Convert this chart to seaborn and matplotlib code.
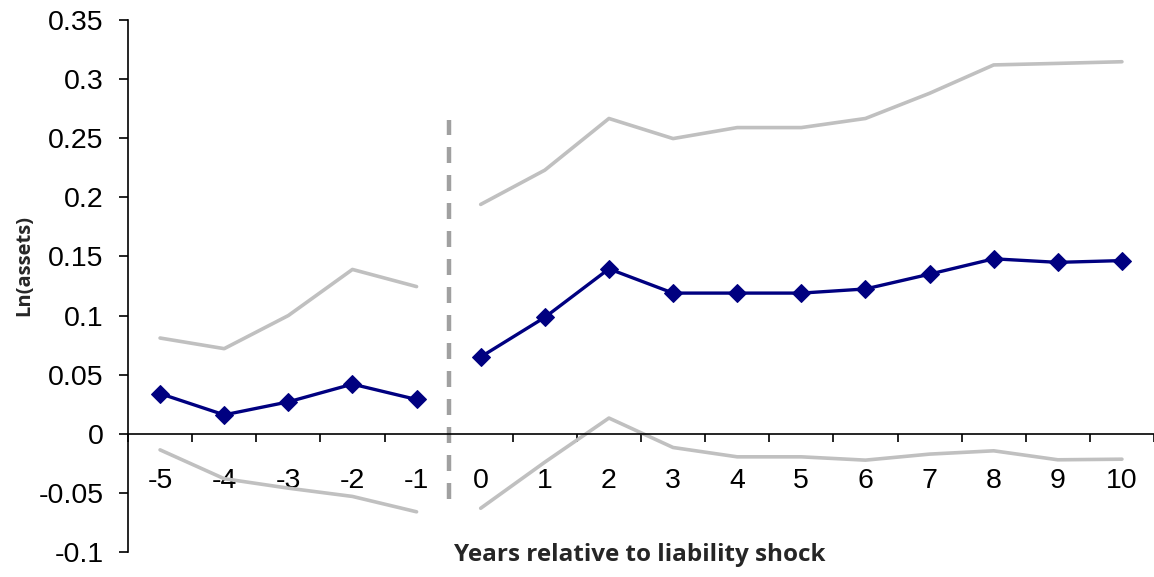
import numpy as np
import pandas as pd
import seaborn as sns
import matplotlib
matplotlib.use("Agg")
import matplotlib.pyplot as plt
from matplotlib.ticker import FixedLocator, NullFormatter, FixedFormatter

# Event-study estimates of log assets around a liability shock
years = [-5, -4, -3, -2, -1, 0, 1, 2, 3, 4, 5, 6, 7, 8, 9, 10]
estimate = [0.034, 0.016, 0.027, 0.042, 0.029, 0.065, 0.0985, 0.1395, 0.119, 0.119,
            0.119, 0.1225, 0.135, 0.148, 0.145, 0.1465]
upper_ci = [0.081, 0.072, 0.100, 0.139, 0.1245, 0.194, 0.223, 0.2667, 0.2497, 0.259,
            0.259, 0.2667, 0.288, 0.312, 0.3133, 0.3147]
lower_ci = [-0.0136, -0.038, -0.046, -0.053, -0.066, -0.063, -0.024, 0.0133, -0.0116,
            -0.0195, -0.0195, -0.0223, -0.0172, -0.0144, -0.022, -0.0215]
y_ticks = [-0.1, -0.05, 0, 0.05, 0.1, 0.15, 0.2, 0.25, 0.3, 0.35]
y_tick_labels = ["-0.1", "-0.05", "0", "0.05", "0.1", "0.15", "0.2", "0.25", "0.3", "0.35"]

df = pd.DataFrame({"year": years, "estimate": estimate, "upper": upper_ci, "lower": lower_ci})
df["period"] = np.where(df["year"] < 0, "pre", "post")

sns.set_theme(style="white")
plt.rcParams["font.family"] = ["Liberation Sans", "DejaVu Sans"]

fig, ax = plt.subplots(figsize=(11.54, 5.77), dpi=100)
fig.subplots_adjust(left=128 / 1154, right=1.0, top=1 - 20 / 577, bottom=1 - 552 / 577)

grey = "#c0c0c0"
navy = "#000080"
for col in ["upper", "lower"]:
    sns.lineplot(data=df, x="year", y=col, units="period", estimator=None,
                 color=grey, lw=2.6, ax=ax, legend=False, sort=True)
sns.lineplot(data=df, x="year", y="estimate", units="period", estimator=None,
             color=navy, lw=2.4, marker="D", markersize=9, markeredgecolor=navy,
             ax=ax, legend=False, sort=True)

# Shock onset marker
ax.vlines(-0.5, -0.055, 0.265, colors="#a0a0a0", lw=3.2, linestyles=(0, (3.6, 2.7)))

ax.set_xlim(-5.5, 10.5)
ax.set_ylim(-0.1, 0.35)

# Spines: left axis plus a horizontal axis through zero
for s in ["top", "right"]:
    ax.spines[s].set_visible(False)
ax.spines["bottom"].set_position(("data", 0))
for s in ["left", "bottom"]:
    ax.spines[s].set_color("black")
    ax.spines[s].set_linewidth(1.2)

ax.yaxis.set_major_locator(FixedLocator(y_ticks))
ax.yaxis.set_major_formatter(FixedFormatter(y_tick_labels))
ax.tick_params(axis="y", which="major", left=True, direction="out", length=6.5,
               width=1.2, color="black", labelsize=20.5, pad=11, labelcolor="black")

# Tick marks between categories, labels centred on categories
ax.xaxis.set_major_locator(FixedLocator(np.arange(-5.5, 10.6, 1.0)))
ax.xaxis.set_major_formatter(NullFormatter())
ax.xaxis.set_minor_locator(FixedLocator(years))
ax.xaxis.set_minor_formatter(FixedFormatter([str(y) for y in years]))
ax.tick_params(axis="x", which="major", bottom=True, direction="out", length=6,
               width=1.2, color="black")
ax.tick_params(axis="x", which="minor", bottom=True, length=0, labelsize=20.5, pad=25,
               labelcolor="black")

ax.set_xlabel("")
ax.set_ylabel("")
fig.text(640 / 1154, 1 - 555 / 577, "Years relative to liability shock",
         ha="center", va="center", fontsize=17.5, fontweight="bold",
         family=["Open Sans", "DejaVu Sans"])
fig.text(24 / 1154, 1 - 265 / 577, "Ln(assets)", rotation=90,
         ha="center", va="center", fontsize=14.5, fontweight="bold",
         family=["Open Sans", "DejaVu Sans"])

fig.savefig("out.png", dpi=100, facecolor="white")
